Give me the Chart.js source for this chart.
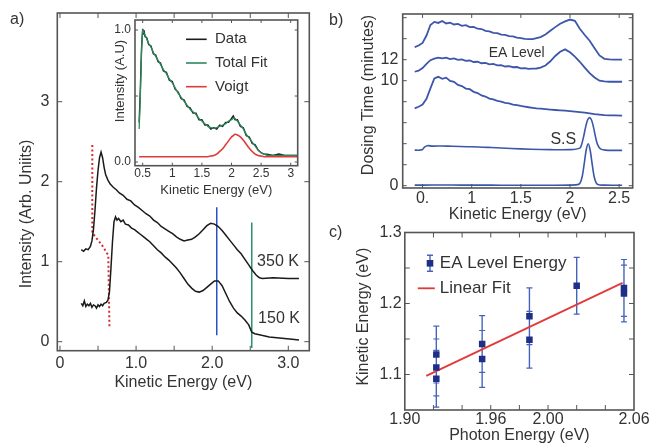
<!DOCTYPE html>
<html>
<head>
<meta charset="utf-8">
<title>EA level spectra</title>
<script src="https://cdn.jsdelivr.net/npm/chart.js@4.4.1/dist/chart.umd.min.js"></script>
<style>
body{margin:0;width:654px;height:444px;overflow:hidden;background:#fff;position:relative;font-family:"Liberation Sans",Arial,sans-serif;}
canvas{position:absolute;}
.panel{position:absolute;font-size:16px;line-height:16px;color:#333;}
</style>
</head>
<body>
<canvas id="chartA" width="330" height="412" style="left:0px;top:-20px"></canvas>
<canvas id="chartInset" width="218" height="208" style="left:100px;top:-10px"></canvas>
<canvas id="chartB" width="312" height="245" style="left:358px;top:-20px"></canvas>
<canvas id="chartC" width="317" height="246" style="left:353px;top:200px"></canvas>
<div class="panel" style="left:10px;top:11px">a)</div>
<div class="panel" style="left:329px;top:12px">b)</div>
<div class="panel" style="left:329px;top:224px">c)</div>
<script>

/* a) spectra at 350 K and 150 K */
const energy350 = [0.28,0.31,0.34,0.37,0.40,0.42,0.44,0.46,0.48,0.50,
  0.52,0.54,0.56,0.58,0.60,0.63,0.66,0.70,0.74,0.78,
  0.83,0.88,0.93,0.98,1.03,1.08,1.13,1.18,1.23,1.28,
  1.33,1.38,1.43,1.48,1.53,1.58,1.63,1.68,1.73,1.78,
  1.83,1.88,1.93,1.98,2.03,2.08,2.13,2.18,2.23,2.28,
  2.33,2.38,2.43,2.48,2.53,2.58,2.62,2.66,2.80,3.00,3.14];
const signal350 = [1.15,1.13,1.16,1.15,1.19,1.26,1.40,1.64,1.92,2.14,
  2.30,2.37,2.30,2.18,2.09,2.02,1.97,1.93,1.90,1.86,
  1.83,1.78,1.76,1.71,1.68,1.64,1.60,1.57,1.52,1.49,
  1.44,1.41,1.38,1.35,1.31,1.28,1.26,1.27,1.28,1.31,
  1.35,1.40,1.45,1.48,1.47,1.44,1.39,1.33,1.27,1.21,
  1.15,1.10,1.03,0.96,0.89,0.83,0.80,0.79,0.80,0.79,0.79];

const energy150 = [0.28,0.30,0.32,0.34,0.36,0.38,0.40,0.42,0.44,0.46,
  0.48,0.50,0.52,0.54,0.56,0.58,0.61,0.63,0.65,0.67,
  0.69,0.71,0.73,0.75,0.77,0.80,0.83,0.86,0.90,0.94,
  0.98,1.02,1.06,1.10,1.14,1.18,1.23,1.28,1.33,1.38,
  1.43,1.48,1.53,1.58,1.63,1.68,1.73,1.78,1.83,1.88,
  1.93,1.98,2.03,2.08,2.13,2.18,2.23,2.28,2.33,2.38,
  2.43,2.48,2.52,2.56,2.65,2.75,2.85,2.95,3.05,3.14];
const signal150 = [0.48,0.45,0.51,0.44,0.47,0.45,0.48,0.43,0.46,0.45,
  0.42,0.46,0.44,0.47,0.45,0.48,0.49,0.52,0.62,0.92,
  1.25,1.50,1.56,1.52,1.54,1.50,1.52,1.47,1.46,1.42,
  1.40,1.37,1.34,1.31,1.28,1.25,1.20,1.15,1.11,1.06,
  1.02,0.97,0.92,0.86,0.79,0.72,0.67,0.63,0.62,0.64,
  0.68,0.72,0.76,0.76,0.70,0.60,0.50,0.42,0.36,0.32,
  0.27,0.21,0.12,0.10,0.08,0.06,0.05,0.04,0.03,0.02];

// red dotted cut-off guide and the two vertical markers
const cutoffX = [0.425,0.425,0.55,0.635,0.65];
const cutoffY = [2.46,1.36,1.21,1.08,0.19];
const blueMarkX = [2.06,2.06];
const blueMarkY = [1.68,0.08];
const greenMarkX = [2.52,2.52];
const greenMarkY = [1.49,-0.08];

const aTicksX = [0,1,2,3];
const aLabelsX = ['0','1.0','2.0','3.0'];
const aTicksY = [0,1,2,3];
const aLabelsY = ['0','1','2','3'];

/* a) inset: fit of one spectrum */
const insetEnergy = [0.44,0.46,0.48,0.50,0.51,0.52,0.54,0.57,0.60,0.64,
  0.68,0.72,0.76,0.80,0.85,0.90,0.95,1.00,1.05,1.10,
  1.15,1.20,1.25,1.30,1.35,1.40,1.45,1.50,1.55,1.60,
  1.65,1.70,1.75,1.80,1.85,1.90,1.95,2.00,2.03,2.06,
  2.10,2.15,2.20,2.25,2.30,2.35,2.40,2.45,2.50,2.55,
  2.60,2.70,2.80,2.90,3.00,3.12];
const insetData = [0.30,0.55,0.86,1.01,0.97,1.00,0.95,0.94,0.89,0.88,
  0.82,0.81,0.76,0.75,0.69,0.68,0.62,0.61,0.55,0.53,
  0.48,0.47,0.42,0.41,0.37,0.37,0.32,0.32,0.28,0.28,
  0.25,0.26,0.25,0.28,0.27,0.30,0.30,0.33,0.35,0.32,
  0.32,0.27,0.26,0.20,0.19,0.14,0.13,0.09,0.07,0.06,
  0.06,0.05,0.06,0.05,0.05,0.05];
const insetFit = [0.25,0.50,0.82,1.00,0.99,0.98,0.96,0.93,0.90,0.87,
  0.83,0.80,0.77,0.74,0.70,0.67,0.63,0.60,0.56,0.52,
  0.49,0.46,0.43,0.40,0.38,0.36,0.33,0.31,0.29,0.27,
  0.26,0.255,0.26,0.27,0.28,0.29,0.31,0.32,0.33,0.33,
  0.31,0.28,0.25,0.21,0.18,0.15,0.12,0.09,0.07,0.06,
  0.05,0.05,0.05,0.05,0.05,0.05];
const insetVoigt = [0.04,0.04,0.04,0.04,0.04,0.04,0.04,0.04,0.04,0.04,
  0.04,0.04,0.04,0.04,0.04,0.04,0.04,0.04,0.04,0.04,
  0.04,0.04,0.04,0.04,0.04,0.04,0.04,0.04,0.04,0.04,
  0.045,0.05,0.06,0.08,0.10,0.13,0.16,0.19,0.20,0.21,
  0.205,0.19,0.165,0.135,0.105,0.08,0.06,0.05,0.045,0.04,
  0.04,0.04,0.04,0.04,0.04,0.04];
const insetNames = ['Data','Total Fit','Voigt'];

const insetTicksX = [0.5,1,1.5,2,2.5,3];
const insetLabelsX = ['0.5','1','1.5','2','2.5','3'];
const insetTicksY = [0,1];
const insetLabelsY = ['0.0','1.0'];

/* b) spectra vs dosing time, stacked */
const dosingOffsets = [0,3.33,6.67,9.9,12.0];

const b0Energy = [0.42,0.60,0.80,1.00,1.20,1.40,1.60,1.80,2.00,2.08,
  2.105,2.125,2.145,2.165,2.185,2.205,2.225,2.245,2.265,2.29,2.35,2.45,2.53];
const b0Signal = [0.05,0.06,0.06,0.05,0.05,0.04,0.04,0.04,0.05,0.10,
  0.30,0.90,2.10,3.40,4.00,3.40,2.10,0.90,0.30,0.08,0.05,0.04,0.04];

const b1Energy = [0.42,0.46,0.50,0.52,0.55,0.60,0.70,0.80,1.00,1.20,
  1.40,1.60,1.80,2.00,2.10,2.12,2.14,2.16,2.18,2.20,
  2.22,2.24,2.26,2.28,2.31,2.36,2.45,2.53];
const b1Signal = [0.06,0.05,0.12,0.35,0.48,0.44,0.45,0.42,0.38,0.30,
  0.21,0.14,0.10,0.10,0.25,0.65,1.40,2.30,2.95,3.15,
  2.90,2.20,1.30,0.60,0.18,0.06,0.03,0.03];

const bEnergy = [0.42,0.46,0.50,0.54,0.58,0.62,0.66,0.70,0.74,0.78,
  0.82,0.86,0.90,0.94,0.98,1.02,1.06,1.10,1.14,1.18,
  1.22,1.26,1.30,1.34,1.38,1.42,1.46,1.50,1.54,1.58,
  1.62,1.66,1.70,1.75,1.80,1.85,1.90,1.95,2.00,2.05,
  2.10,2.15,2.20,2.25,2.30,2.35,2.40,2.45,2.53];
const b2Signal = [0.70,0.85,1.05,1.60,2.60,3.55,3.70,3.50,3.62,3.30,
  3.22,2.92,2.82,2.58,2.52,2.27,2.15,1.92,1.82,1.62,
  1.54,1.40,1.34,1.22,1.16,1.06,1.00,0.93,0.87,0.80,
  0.75,0.70,0.66,0.62,0.58,0.54,0.50,0.47,0.43,0.39,
  0.34,0.28,0.21,0.14,0.09,0.05,0.03,0.02,0.00];
const b3Signal = [0.95,1.05,1.30,1.70,2.05,2.20,2.30,2.22,2.30,2.15,
  2.22,2.08,2.12,1.98,2.02,1.88,1.90,1.76,1.80,1.66,
  1.70,1.55,1.58,1.45,1.48,1.38,1.40,1.28,1.30,1.22,
  1.25,1.26,1.35,1.55,1.95,2.45,2.85,3.08,2.80,2.40,
  1.90,1.35,0.82,0.40,0.10,0.03,0.00,0.00,0.00];
const b4Signal = [1.20,1.35,1.60,2.30,3.30,3.60,3.50,3.68,3.45,3.52,
  3.35,3.40,3.22,3.28,3.10,3.12,2.95,2.92,2.75,2.70,
  2.55,2.52,2.38,2.36,2.24,2.22,2.10,2.06,1.98,1.96,
  1.95,2.05,2.15,2.40,2.75,3.10,3.42,3.65,3.82,3.70,
  2.95,2.35,1.80,1.10,0.40,0.08,0.02,0.00,0.00];

const bTicksX = [0.5,1,1.5,2,2.5];
const bLabelsX = ['0.','1','1.5','2','2.5'];
const bTicksY = [0,10,12];
const bLabelsY = ['0','10','12'];

/* c) EA level energy vs photon energy */
const photonEnergy = [1.922,1.922,1.922,1.954,1.954,1.987,1.987,2.020,2.053,2.053];
const eaEnergy = [1.128,1.110,1.094,1.143,1.122,1.182,1.149,1.225,1.222,1.214];
const eaError = [0.04,0.04,0.04,0.04,0.04,0.04,0.04,0.04,0.04,0.04];
const fitPhoton = [1.915,2.052];
const fitEnergy = [1.098,1.229];

const cTicksX = [1.90,1.96,2.00,2.06];
const cLabelsX = ['1.90','1.96','2.00','2.06'];
const cTicksY = [1.1,1.2,1.3];
const cLabelsY = ['1.1','1.2','1.3'];


const FONT = '"Liberation Sans", Arial, sans-serif';
Chart.defaults.font.family = FONT;
Chart.defaults.color = '#333';
Chart.defaults.animation = false;

const ink = '#555';

function pts(xs, ys, shift){
  return xs.map((x, i) => ({x: x, y: ys[i] + (shift || 0)}));
}

function line(data, color, width, extra){
  return Object.assign({data: data, showLine: true, borderColor: color, borderWidth: width,
    pointRadius: 0, tension: 0}, extra || {});
}

// linear axis with fixed box size, explicit ticks, no grid
function axis(o){
  return {
    type: 'linear', min: o.min, max: o.max,
    grid: {display: false, drawTicks: false},
    border: {display: false},
    title: {display: !!o.title, text: o.title, font: {size: o.titleSize}, padding: 0, color: '#333'},
    ticks: {font: {size: o.size}, padding: o.pad, color: '#333', autoSkip: false, maxRotation: 0,
      callback: (v, i) => o.labels[i]},
    afterBuildTicks: s => { s.ticks = o.ticks.map(v => ({value: v})); },
    afterFit: s => { if (s.isHorizontal()) s.height = o.fit; else s.width = o.fit; }
  };
}

// box, inward ticks, y title, text notes and hand drawn keys
function frame(cfg){
  return {
    id: 'frame',
    beforeDatasetsDraw(chart){
      if (!cfg.fill) return;
      const a = chart.chartArea, c = chart.ctx;
      c.save();
      c.fillStyle = '#fff';
      c.fillRect(a.left, a.top, a.right - a.left, a.bottom - a.top);
      c.restore();
    },
    afterDraw(chart){
      const a = chart.chartArea, c = chart.ctx;
      const sx = chart.scales.x, sy = chart.scales.y;
      c.save();
      c.strokeStyle = ink;
      c.lineWidth = 1;
      c.beginPath();
      cfg.xt.forEach(v => {
        const p = sx.getPixelForValue(v);
        c.moveTo(p, a.bottom); c.lineTo(p, a.bottom - cfg.len);
        c.moveTo(p, a.top); c.lineTo(p, a.top + cfg.len);
      });
      cfg.yt.forEach(v => {
        const p = sy.getPixelForValue(v);
        c.moveTo(a.left, p); c.lineTo(a.left + cfg.len, p);
        c.moveTo(a.right, p); c.lineTo(a.right - cfg.len, p);
      });
      c.stroke();
      c.lineWidth = 1.6;
      c.strokeRect(a.left, a.top, a.right - a.left, a.bottom - a.top);
      c.fillStyle = '#333';
      c.textAlign = 'center';
      c.textBaseline = 'middle';
      if (cfg.ytitle) {
        const t = cfg.ytitle;
        c.save();
        c.font = t.size + 'px ' + FONT;
        c.translate(t.x, t.y);
        c.rotate(-Math.PI / 2);
        c.fillText(t.text, 0, 0);
        c.restore();
      }
      (cfg.notes || []).forEach(n => {
        c.font = n.size + 'px ' + FONT;
        c.fillText(n.text, sx.getPixelForValue(n.x), sy.getPixelForValue(n.y));
      });
      if (cfg.key) cfg.key(c, a, chart);
      c.restore();
    }
  };
}

const base = {
  responsive: false,
  events: [],
  plugins: {legend: {display: false}, tooltip: {enabled: false}}
};

/* a) main */
new Chart(document.getElementById('chartA'), {
  type: 'scatter',
  data: {datasets: [
    line(pts(energy350, signal350), '#1a1a1a', 1.5),
    line(pts(energy150, signal150), '#1a1a1a', 1.5),
    line(pts(cutoffX, cutoffY), '#d42b2b', 2, {borderDash: [2, 2.5]}),
    line(pts(blueMarkX, blueMarkY), '#2e4fc2', 1.5),
    line(pts(greenMarkX, greenMarkY), '#2b9172', 1.5)
  ]},
  options: Object.assign({}, base, {
    layout: {padding: {left: 17.7, top: 33, right: 20.7, bottom: 0}},
    scales: {
      x: axis({min: -0.035, max: 3.276, ticks: aTicksX, labels: aLabelsX, size: 16, pad: 3, fit: 41.3,
        title: 'Kinetic Energy (eV)', titleSize: 16}),
      y: axis({min: -0.1125, max: 4.109, ticks: aTicksY, labels: aLabelsY, size: 16, pad: 8, fit: 39.6})
    }
  }),
  plugins: [frame({xt: [0,0.5,1,1.5,2,2.5,3], yt: [0,1,2,3], len: 5,
    ytitle: {text: 'Intensity (Arb. Uniits)', x: 26.7, y: 234, size: 16},
    notes: [
      {text: '350 K', x: 2.865, y: 1.0, size: 16},
      {text: '150 K', x: 2.878, y: 0.29, size: 16}
    ]})]
});

/* a) inset */
const insetColors = ['#1c1c1c', '#2b8a5e', '#e03a3a'];
new Chart(document.getElementById('chartInset'), {
  type: 'scatter',
  data: {datasets: [
    line(pts(insetEnergy, insetVoigt), insetColors[2], 1.6, {tension: 0.3}),
    line(pts(insetEnergy, insetFit), insetColors[1], 1.3, {tension: 0.2}),
    line(pts(insetEnergy, insetData), insetColors[0], 1.4)
  ]},
  options: Object.assign({}, base, {
    layout: {padding: {left: 12.2, top: 30, right: 20.3, bottom: 0}},
    scales: {
      x: axis({min: 0.37, max: 3.118, ticks: insetTicksX, labels: insetLabelsX, size: 12, pad: 0.5, fit: 32.3,
        title: 'Kinetic Energy (eV)', titleSize: 13}),
      y: axis({min: -0.028, max: 1.076, ticks: insetTicksY, labels: insetLabelsY, size: 12, pad: 4, fit: 22.8})
    }
  }),
  plugins: [frame({fill: true, xt: insetTicksX, yt: [0,0.5,1], len: 3,
    ytitle: {text: 'Intensity (A.U)', x: 20.5, y: 91, size: 13},
    key: (c, a) => {
      c.textAlign = 'left';
      c.font = '15px ' + FONT;
      insetNames.forEach((name, i) => {
        const y = a.top + 19.3 + i * 23.7;
        c.strokeStyle = insetColors[i];
        c.lineWidth = 1.6;
        c.beginPath(); c.moveTo(a.left + 51, y); c.lineTo(a.left + 71.7, y); c.stroke();
        c.fillStyle = '#333';
        c.fillText(name, a.left + 80, y);
      });
    }})]
});

/* b) */
const bBlue = '#3b56aa';
new Chart(document.getElementById('chartB'), {
  type: 'scatter',
  data: {datasets: [
    line(pts(b0Energy, b0Signal, dosingOffsets[0]), bBlue, 1.6, {tension: 0.3}),
    line(pts(b1Energy, b1Signal, dosingOffsets[1]), bBlue, 1.6, {tension: 0.3}),
    line(pts(bEnergy, b2Signal, dosingOffsets[2]), bBlue, 1.8),
    line(pts(bEnergy, b3Signal, dosingOffsets[3]), bBlue, 1.8),
    line(pts(bEnergy, b4Signal, dosingOffsets[4]), bBlue, 1.8)
  ]},
  options: Object.assign({}, base, {
    layout: {padding: {left: 0.7, top: 34, right: 37.3, bottom: 0.4}},
    scales: {
      x: axis({min: 0.298, max: 2.638, ticks: bTicksX, labels: bLabelsX, size: 16, pad: 1.4, fit: 36.6,
        title: 'Kinetic Energy (eV)', titleSize: 16}),
      y: axis({min: -0.22, max: 16.35, ticks: bTicksY, labels: bLabelsY, size: 16, pad: 4.4, fit: 44})
    }
  }),
  plugins: [frame({xt: bTicksX, yt: [0,2,4,6,8,10,12,14,16], len: 4,
    ytitle: {text: 'Dosing Time (minutes)', x: 10.3, y: 115, size: 16},
    notes: [
      {text: 'EA Level', x: 1.458, y: 12.67, size: 14},
      {text: 'S.S', x: 1.932, y: 4.35, size: 16}
    ]})]
});

/* c) */
const errorBars = [];
photonEnergy.forEach((x, i) => {
  errorBars.push({x: x, y: eaEnergy[i] - eaError[i]}, {x: x, y: eaEnergy[i] + eaError[i]}, {x: x, y: null});
});
const markBlue = '#1f2f88';
const barBlue = '#4663bb';
const fitRed = '#e23a3a';

new Chart(document.getElementById('chartC'), {
  type: 'scatter',
  data: {datasets: [
    {data: pts(photonEnergy, eaEnergy), pointStyle: 'rect', pointRadius: 4.6, backgroundColor: markBlue,
      borderColor: markBlue, borderWidth: 0},
    line(pts(fitPhoton, fitEnergy), fitRed, 1.8),
    line(errorBars, barBlue, 1.4, {spanGaps: false, pointStyle: 'line', pointRadius: 3,
      pointBorderColor: barBlue, pointBorderWidth: 1.2})
  ]},
  options: Object.assign({}, base, {
    layout: {padding: {left: 0.7, top: 32.5, right: 36, bottom: 0.4}},
    scales: {
      x: axis({min: 1.90, max: 2.06, ticks: cTicksX, labels: cLabelsX, size: 16, pad: 0.4, fit: 35.6,
        title: 'Photon Energy (eV)', titleSize: 16}),
      y: axis({min: 1.05, max: 1.30, ticks: cTicksY, labels: cLabelsY, size: 16, pad: 3.1, fit: 51.1})
    }
  }),
  plugins: [frame({xt: [1.92,1.94,1.96,1.98,2.00,2.02,2.04], yt: [1.1,1.15,1.2,1.25], len: 5,
    ytitle: {text: 'Kinetic Energy (eV)', x: 10.3, y: 116.7, size: 16},
    key: (c, a) => {
      const mx = a.left + 25.2, my = a.top + 30.8;
      c.strokeStyle = barBlue;
      c.lineWidth = 1.4;
      c.beginPath();
      c.moveTo(mx, my - 8); c.lineTo(mx, my + 8);
      c.moveTo(mx - 3, my - 8); c.lineTo(mx + 3, my - 8);
      c.moveTo(mx - 3, my + 8); c.lineTo(mx + 3, my + 8);
      c.stroke();
      c.fillStyle = markBlue;
      c.fillRect(mx - 3.3, my - 3.3, 6.6, 6.6);
      c.strokeStyle = fitRed;
      c.lineWidth = 1.8;
      c.beginPath(); c.moveTo(a.left + 13, a.top + 55.8); c.lineTo(a.left + 30, a.top + 55.8); c.stroke();
      c.fillStyle = '#333';
      c.textAlign = 'left';
      c.font = '17px ' + FONT;
      c.fillText('EA Level Energy', a.left + 35, my);
      c.fillText('Linear Fit', a.left + 35, a.top + 55.8);
    }})]
});

</script>
</body>
</html>
